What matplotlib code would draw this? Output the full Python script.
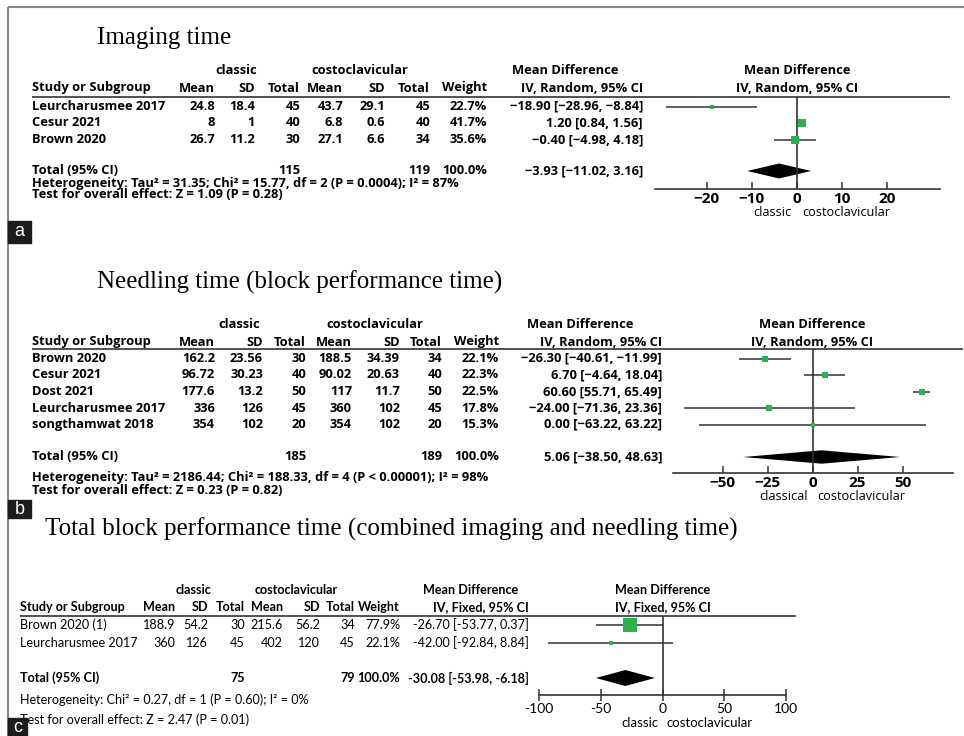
import matplotlib.pyplot as plt
from matplotlib.patches import Rectangle

# ===================== data =====================
# (a) Imaging time
a_study = ['Leurcharusmee 2017', 'Cesur 2021', 'Brown 2020']
a_cl_mean = ['24.8', '8', '26.7']
a_cl_sd = ['18.4', '1', '11.2']
a_cl_n = [45, 40, 30]
a_co_mean = ['43.7', '6.8', '27.1']
a_co_sd = ['29.1', '0.6', '6.6']
a_co_n = [45, 40, 34]
a_weight = [22.7, 41.7, 35.6]
a_md = [-18.90, 1.20, -0.40]
a_lo = [-28.96, 0.84, -4.98]
a_hi = [-8.84, 1.56, 4.18]
a_total = [-3.93, -11.02, 3.16]
a_total_n = [115, 119]
a_ticks = [-20, -10, 0, 10, 20]
a_het = 'Heterogeneity: Tau\u00b2 = 31.35; Chi\u00b2 = 15.77, df = 2 (P = 0.0004); I\u00b2 = 87%'
a_test = 'Test for overall effect: Z = 1.09 (P = 0.28)'

# (b) Needling time
b_study = ['Brown 2020', 'Cesur 2021', 'Dost 2021', 'Leurcharusmee 2017', 'songthamwat 2018']
b_cl_mean = ['162.2', '96.72', '177.6', '336', '354']
b_cl_sd = ['23.56', '30.23', '13.2', '126', '102']
b_cl_n = [30, 40, 50, 45, 20]
b_co_mean = ['188.5', '90.02', '117', '360', '354']
b_co_sd = ['34.39', '20.63', '11.7', '102', '102']
b_co_n = [34, 40, 50, 45, 20]
b_weight = [22.1, 22.3, 22.5, 17.8, 15.3]
b_md = [-26.30, 6.70, 60.60, -24.00, 0.00]
b_lo = [-40.61, -4.64, 55.71, -71.36, -63.22]
b_hi = [-11.99, 18.04, 65.49, 23.36, 63.22]
b_total = [5.06, -38.50, 48.63]
b_total_n = [185, 189]
b_ticks = [-50, -25, 0, 25, 50]
b_het = 'Heterogeneity: Tau\u00b2 = 2186.44; Chi\u00b2 = 188.33, df = 4 (P < 0.00001); I\u00b2 = 98%'
b_test = 'Test for overall effect: Z = 0.23 (P = 0.82)'

# (c) Total block performance time
c_study = ['Brown 2020 (1)', 'Leurcharusmee 2017']
c_cl_mean = ['188.9', '360']
c_cl_sd = ['54.2', '126']
c_cl_n = [30, 45]
c_co_mean = ['215.6', '402']
c_co_sd = ['56.2', '120']
c_co_n = [34, 45]
c_weight = [77.9, 22.1]
c_md = [-26.70, -42.00]
c_lo = [-53.77, -92.84]
c_hi = [0.37, 8.84]
c_total = [-30.08, -53.98, -6.18]
c_total_n = [75, 79]
c_ticks = [-100, -50, 0, 50, 100]
c_het = 'Heterogeneity: Chi\u00b2 = 0.27, df = 1 (P = 0.60); I\u00b2 = 0%'
c_test = 'Test for overall effect: Z = 2.47 (P = 0.01)'

# ===================== canvas =====================
W, H = 964, 736
GREEN = '#2bb24c'
LINE = '#333333'
fig = plt.figure(figsize=(W / 100, H / 100), dpi=100)
bg = fig.add_axes([0, 0, 1, 1])
bg.set_xlim(0, W)
bg.set_ylim(H, 0)
bg.axis('off')

# outer frame (top + left)
bg.hlines(7, 8, W, color='#888888', lw=1.5)
bg.vlines(8, 7, H, color='#888888', lw=1.5)


def draw_panel(title, study, cl_mean, cl_sd, cl_n, co_mean, co_sd, co_n,
               weight, md, lo, hi, total, total_n, het, test, ticks, model, L):
    m = L['minus']
    f2 = lambda v: f'{v:.2f}'.replace('-', m)
    hdr = dict(family=L['font'], weight='bold', size=L['fs'])
    body = dict(family=L['font'], weight=L['body_w'], size=L['fs'], va='center')

    bg.text(L['title_x'], L['title_y'], title, family='Liberation Serif',
            size=18, va='center', ha='left')

    # header rows
    bg.text(L['grp'][0], L['y_h1'], 'classic', ha='center', va='center', **hdr)
    bg.text(L['grp'][1], L['y_h1'], 'costoclavicular', ha='center', va='center', **hdr)
    bg.text(L['md_c'], L['y_h1'], 'Mean Difference', ha='center', va='center', **hdr)
    c = L['cols']
    bg.text(L['left'], L['y_h2'], 'Study or Subgroup', ha='left', va='center', **hdr)
    for x, s in zip(c[:7], ['Mean', 'SD', 'Total', 'Mean', 'SD', 'Total', 'Weight']):
        bg.text(x, L['y_h2'], s, ha='right', va='center', **hdr)
    bg.text(c[7], L['y_h2'], f'IV, {model}, 95% CI', ha='right', va='center', **hdr)
    bg.hlines(L['y_line'], L['left'], L['line_x1'], color=LINE, lw=1.2)

    # study rows
    ys = [L['y_row0'] + i * L['dy'] for i in range(len(study))]
    for i, y in enumerate(ys):
        bg.text(L['left'], y, study[i], ha='left', **body)
        vals = [cl_mean[i], cl_sd[i], str(cl_n[i]), co_mean[i], co_sd[i],
                str(co_n[i]), f'{weight[i]:.1f}%',
                f'{f2(md[i])} [{f2(lo[i])}, {f2(hi[i])}]']
        for x, s in zip(c, vals):
            bg.text(x, y, s, ha='right', **body)

    # total row + notes
    yt = L['y_total']
    bg.text(L['left'], yt, 'Total (95% CI)', ha='left', va='center', **hdr)
    bg.text(c[2], yt, str(total_n[0]), ha='right', va='center', **hdr)
    bg.text(c[5], yt, str(total_n[1]), ha='right', va='center', **hdr)
    bg.text(c[6], yt, '100.0%', ha='right', va='center', **hdr)
    bg.text(c[7], yt, f'{f2(total[0])} [{f2(total[1])}, {f2(total[2])}]',
            ha='right', va='center', **hdr)
    bg.text(L['left'], L['y_het'], het, ha='left', **body)
    bg.text(L['left'], L['y_test'], test, ha='left', **body)

    # forest plot
    x0, x1 = L['px']
    ax = fig.add_axes([x0 / W, 1 - L['y_axis'] / H, (x1 - x0) / W,
                       (L['y_axis'] - L['y_line']) / H])
    ax.patch.set_alpha(0)
    ax.set_xlim(*L['xlim'])
    ax.set_ylim(L['y_axis'], L['y_line'])
    for s in ['left', 'right', 'top']:
        ax.spines[s].set_visible(False)
    ax.spines['bottom'].set_color(LINE)
    ax.spines['bottom'].set_linewidth(1.2)
    ax.set_yticks([])
    ax.axvline(0, color=LINE, lw=1.2)
    ax.hlines(ys, lo, hi, color=LINE, lw=1.1)
    for i, y in enumerate(ys):
        side = max(4.0, L['k'] * weight[i])
        ax.plot(md[i], y, 's', ms=side * 0.72, color=GREEN, mec=GREEN, mew=0)
    h = L['dh']
    ax.fill([total[1], total[0], total[2], total[0]], [yt, yt - h, yt, yt + h],
            color='black', lw=0)
    ax.set_xticks(ticks)
    ax.set_xticklabels([str(t).replace('-', m) for t in ticks],
                       family=L['font'], weight=L['tweight'], size=L['tfs'])
    ax.tick_params(axis='x', direction=L['tdir'], length=L['tlen'], width=1.1,
                   color=LINE, pad=L['tpad'])

    # plot header and side descriptors
    top_kw = dict(xycoords=('data', 'axes fraction'), textcoords='offset pixels',
                  ha='center', va='center')
    ax.annotate('Mean Difference', (0, 1), xytext=(0, L['y_line'] - L['y_h1']), **top_kw, **hdr)
    ax.annotate(f'IV, {model}, 95% CI', (0, 1), xytext=(0, L['y_line'] - L['y_h2']), **top_kw, **hdr)
    side_kw = dict(xycoords=('data', 'axes fraction'), textcoords='offset pixels',
                   va='center', family=L['font'], size=L['sfs'])
    ax.annotate(L['side'][0], (0, 0), xytext=(-L['side_gap'], -L['side_dy']), ha='right', **side_kw)
    ax.annotate(L['side'][1], (0, 0), xytext=(L['side_gap'], -L['side_dy']), ha='left', **side_kw)

    # panel letter
    bx, by, bw, bh = L['box']
    bg.add_patch(Rectangle((bx, by), bw, bh, color='#1c1c1c', zorder=5))
    bg.text(bx + bw / 2, by + bh / 2, L['label'], color='white', ha='center',
            va='center', family='Liberation Sans', size=13, zorder=6)


LA = dict(font='Open Sans', fs=9.3, body_w='bold', minus='\u2212', title_x=97, title_y=38,
          grp=(236, 360), md_c=565, left=32, cols=[215, 255, 300, 343, 385, 430, 487, 643],
          y_h1=71, y_h2=88, y_line=97, line_x1=950, y_row0=106.5, dy=16.5, y_total=171,
          y_het=183.5, y_test=195, px=(655, 940), xlim=(-31.5, 31.8), y_axis=189, k=0.21, dh=7.5,
          tdir='in', tlen=5, tpad=2, tfs=11, tweight='bold', sfs=9.2,
          side=('classic', 'costoclavicular'), side_gap=5, side_dy=24, label='a',
          box=(8, 221, 23, 22))
LB = dict(LA, title_y=282, grp=(239, 375), md_c=580, cols=[215, 263, 306, 352, 400, 442, 499, 662],
          y_h1=325, y_h2=342, y_line=349, line_x1=963, y_row0=358.5, dy=16.5, y_total=457,
          y_het=477, y_test=491, px=(673, 953), xlim=(-77.5, 78), y_axis=473, k=0.29, dh=6.7,
          side=('classical', 'costoclavicular'), label='b', box=(8, 500, 23, 18))
LC = dict(LA, font='Lato', fs=9.1, body_w='normal', minus='-', title_x=45, title_y=529,
          grp=(193, 296), md_c=471, left=20, cols=[175, 208, 245, 283, 320, 355, 400, 529],
          y_h1=590, y_h2=607, y_line=616, line_x1=796, y_row0=625, dy=18, y_total=678,
          y_het=700, y_test=720, px=(539, 786), xlim=(-100, 100), y_axis=695, k=0.167, dh=8,
          tdir='inout', tlen=8, tpad=2, tfs=10, tweight='normal', sfs=9.5, side_gap=4,
          side_dy=28, label='c', box=(8, 718, 19, 18))

draw_panel('Imaging time', a_study, a_cl_mean, a_cl_sd, a_cl_n, a_co_mean, a_co_sd, a_co_n,
           a_weight, a_md, a_lo, a_hi, a_total, a_total_n, a_het, a_test, a_ticks, 'Random', LA)
draw_panel('Needling time (block performance time)', b_study, b_cl_mean, b_cl_sd, b_cl_n,
           b_co_mean, b_co_sd, b_co_n, b_weight, b_md, b_lo, b_hi, b_total, b_total_n,
           b_het, b_test, b_ticks, 'Random', LB)
draw_panel('Total block performance time (combined imaging and needling time)', c_study,
           c_cl_mean, c_cl_sd, c_cl_n, c_co_mean, c_co_sd, c_co_n, c_weight, c_md, c_lo, c_hi,
           c_total, c_total_n, c_het, c_test, c_ticks, 'Fixed', LC)

fig.savefig('out.png', dpi=100)
